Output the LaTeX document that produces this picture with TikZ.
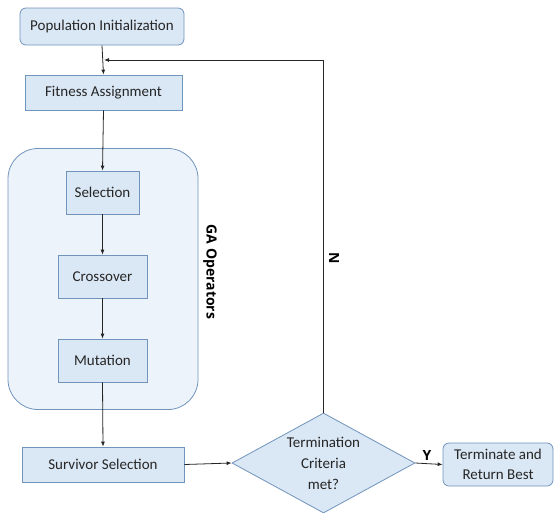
\documentclass[tikz,border=0pt]{standalone}
\usepackage{fontspec}
\setmainfont{Carlito}
\newfontfamily\lblfont{Open Sans}
\usetikzlibrary{shapes.geometric,arrows.meta}
\definecolor{boxfill}{HTML}{DAE7F4}
\definecolor{boxline}{HTML}{7194BC}
\definecolor{gafill}{HTML}{EDF3FA}
\definecolor{arr}{HTML}{262626}
\definecolor{txt}{HTML}{262626}
\tikzset{
  box/.style={draw=boxline, fill=boxfill, line width=0.8pt, rectangle, inner sep=0pt, align=center, text=txt, font=\fontsize{15}{18}\selectfont},
  rbox/.style={box, rounded corners=6pt},
  conn/.style={draw=arr, line width=0.8pt, -{Latex[length=5pt,width=4pt]}},
  lbl/.style={font=\lblfont\bfseries\fontsize{14}{16}\selectfont, inner sep=0pt},
}
\begin{document}
\begin{tikzpicture}[x=1pt,y=-1pt]
\useasboundingbox (0,0) rectangle (556,512);
\node[rbox, minimum width=164pt, minimum height=37pt] (pop) at (102,26.5) {Population Initialization};
\node[box, minimum width=157pt, minimum height=35pt] (fit) at (103.5,92.5) {Fitness Assignment};
\node[draw=boxline, fill=gafill, line width=0.8pt, rounded corners=30pt, minimum width=190pt, minimum height=261pt] (ga) at (103,279) {};
\node[box, minimum width=73pt, minimum height=43pt] (sel) at (102.5,192.5) {Selection};
\node[box, minimum width=89pt, minimum height=43pt] (cro) at (102.5,276.5) {Crossover};
\node[box, minimum width=89pt, minimum height=43pt] (mut) at (102.5,360.5) {Mutation};
\node[box, minimum width=162pt, minimum height=35pt] (sur) at (103,464.5) {Survivor Selection};
\node[box, shape=diamond, aspect=1.83, minimum width=183pt, minimum height=100pt, font=\fontsize{15}{21}\selectfont] (dia) at (323.5,463) {Termination\\Criteria\\met?};
\node[rbox, minimum width=110pt, minimum height=43pt, font=\fontsize{15}{20}\selectfont] (ter) at (498,464.5) {Terminate and\\Return Best};
\node[lbl, rotate=-90] (galbl) at (210,272) {GA Operators};
\coordinate (corner) at (dia.north |- 0,60);
\coordinate (join) at (104,60);
\node[lbl, rotate=-90] (nlbl) at (334,258) {N};
\node[lbl, anchor=south] (ylbl) at (427,461) {Y};
\draw[conn] (pop.south) -- (fit.north);
\draw[conn] (dia.north) -- (corner) -- (join);
\draw[conn] (fit.south) -- (sel.north);
\draw[conn] (sel.south) -- (cro.north);
\draw[conn] (cro.south) -- (mut.north);
\draw[conn] (mut.south) -- (sur.north);
\draw[conn] (sur.east) -- (dia.west);
\draw[conn] (dia.east) -- (ter.west);
\end{tikzpicture}
\end{document}
